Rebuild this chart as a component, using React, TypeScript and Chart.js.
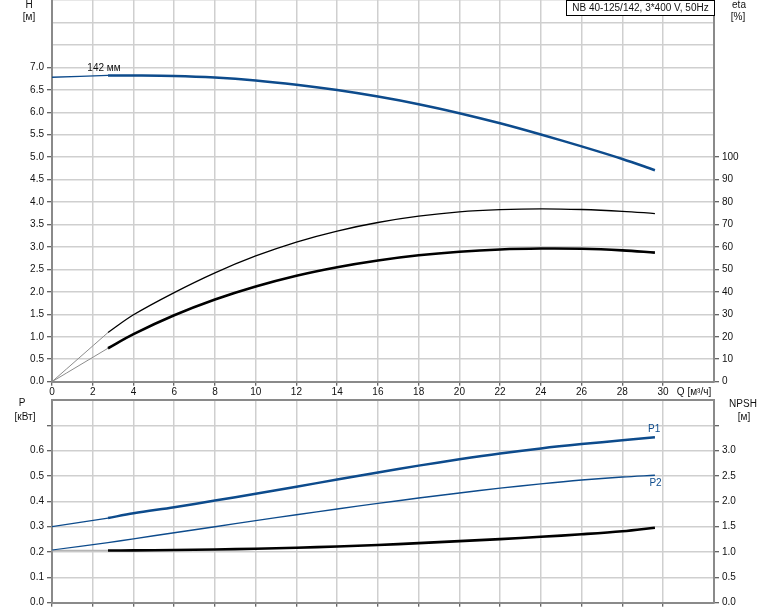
import React, { useEffect, useRef } from 'react';
import { Chart, registerables } from 'chart.js';

Chart.register(...registerables);

// ---------------- data ----------------
// flow Q [m³/h]: short "extension" part (thin) and main part of each curve
const qExt = [0, 2.75];
const qMain = [2.75, 4, 6, 8, 10, 12, 14, 16, 18, 20, 22, 24, 26, 28, 29.6];

// head H [m]
const hExt = [6.78, 6.82];
const hMain = [6.82, 6.82, 6.81, 6.775, 6.71, 6.615, 6.495, 6.35, 6.18, 5.98, 5.755, 5.505, 5.24, 4.96, 4.71];

// efficiency eta [%] (upper thin curve and lower thick curve)
const etaExt = [0, 21.9];
const etaMain = [21.9, 29.8, 39.7, 48.5, 56.0, 62.2, 67.1, 70.9, 73.7, 75.6, 76.6, 77.0, 76.7, 75.9, 74.9];
const etaTotExt = [0, 14.9];
const etaTotMain = [14.9, 21.2, 29.6, 36.6, 42.4, 47.2, 51.0, 54.0, 56.3, 57.9, 58.9, 59.3, 59.2, 58.5, 57.5];

// power P [kW]
const p1Ext = [0.3, 0.334];
const p1Main = [0.334, 0.353, 0.377, 0.403, 0.43, 0.458, 0.486, 0.514, 0.541, 0.566, 0.589, 0.609, 0.626, 0.641, 0.653];
const p2Ext = [0.208, 0.237];
const p2Main = [0.237, 0.252, 0.276, 0.3, 0.324, 0.347, 0.37, 0.392, 0.413, 0.433, 0.452, 0.469, 0.484, 0.496, 0.503];

// NPSH [m]
const npshExt = [1.03, 1.03];
const npshMain = [1.03, 1.033, 1.04, 1.05, 1.065, 1.085, 1.11, 1.14, 1.175, 1.215, 1.255, 1.3, 1.35, 1.41, 1.48];

// tick labels
const qTickLabels = [0, 2, 4, 6, 8, 10, 12, 14, 16, 18, 20, 22, 24, 26, 28, 30];
const hTickLabels = [0, 0.5, 1, 1.5, 2, 2.5, 3, 3.5, 4, 4.5, 5, 5.5, 6, 6.5, 7];
const etaTickLabels = [0, 10, 20, 30, 40, 50, 60, 70, 80, 90, 100];
const pTickLabels = [0, 0.1, 0.2, 0.3, 0.4, 0.5, 0.6];
const npshTickLabels = [0, 0.5, 1, 1.5, 2, 2.5, 3];

const titleText = 'NB 40-125/142, 3*400 V, 50Hz';
const curveLabel = '142 мм';

// ---------------- styles ----------------
const FONT = 'Arial, "Liberation Sans", sans-serif';
const BLUE = '#0d4b8c';
const GRID = '#cfcfcf';
const AXIS = '#8a8a8a';
const TICK = '#333333';
const TEXT = '#111111';

const has = (arr: number[], v: number) => arr.some((a) => Math.abs(a - v) < 1e-6);

const pts = (xs: number[], ys: number[]) => xs.map((x, i) => ({ x, y: ys[i] }));

const line = (label: string, xs: number[], ys: number[], color: string, width: number, yAxisID: string) => ({
  label,
  data: pts(xs, ys),
  borderColor: color,
  backgroundColor: color,
  borderWidth: width,
  pointRadius: 0,
  pointHoverRadius: 0,
  fill: false,
  tension: 0.35,
  borderCapStyle: 'butt' as const,
  yAxisID,
});

const noPad = (s: any) => {
  s.paddingTop = 0;
  s.paddingBottom = 0;
  s.paddingLeft = 0;
  s.paddingRight = 0;
};

const valueAxis = (
  position: 'left' | 'right',
  min: number,
  max: number,
  step: number,
  labels: number[],
  markMax: number,
  decimals: number,
  width: number,
  onArea: boolean
) => ({
  type: 'linear' as const,
  position,
  min,
  max,
  afterFit: (s: any) => {
    s.width = width;
    noPad(s);
  },
  ticks: {
    stepSize: step,
    autoSkip: false,
    padding: 3,
    color: TEXT,
    font: { family: FONT, size: 10 },
    callback: (v: any) => (has(labels, Number(v)) ? Number(v).toFixed(decimals) : ''),
  },
  grid: {
    drawOnChartArea: onArea,
    color: GRID,
    lineWidth: 1.5,
    tickLength: 5,
    tickWidth: 1,
    tickColor: (ctx: any) => (ctx.tick && ctx.tick.value <= markMax + 1e-6 ? TICK : 'rgba(0,0,0,0)'),
  },
  border: { display: true, color: AXIS, width: 2 },
});

type TextItem = {
  text: string;
  x: number;
  y: number;
  color?: string;
  data?: boolean;
  yAxis?: string;
};

const textPlugin = (items: TextItem[], box?: boolean, frameTop?: boolean) => ({
  id: 'texts',
  afterDraw(chart: any) {
    const ctx = chart.ctx as CanvasRenderingContext2D;
    const area = chart.chartArea;
    ctx.save();
    if (frameTop) {
      ctx.strokeStyle = AXIS;
      ctx.lineWidth = 2;
      ctx.beginPath();
      ctx.moveTo(area.left - 1, area.top);
      ctx.lineTo(area.right + 1, area.top);
      ctx.stroke();
    }
    if (box) {
      const bw = 148;
      const bh = 15;
      const bx = Math.round(area.right - bw) + 0.5;
      const by = 0.5;
      ctx.fillStyle = '#ffffff';
      ctx.fillRect(bx, by, bw, bh);
      ctx.strokeStyle = '#000000';
      ctx.lineWidth = 1;
      ctx.strokeRect(bx, by, bw, bh);
      ctx.fillStyle = TEXT;
      ctx.font = `10px ${FONT}`;
      ctx.textAlign = 'center';
      ctx.textBaseline = 'middle';
      ctx.fillText(titleText, bx + bw / 2, by + bh / 2 + 0.5);
    }
    ctx.font = `10px ${FONT}`;
    ctx.textAlign = 'center';
    ctx.textBaseline = 'middle';
    for (const it of items) {
      let x = it.x;
      let y = it.y;
      if (it.data) {
        x = chart.scales.x.getPixelForValue(it.x);
        y = chart.scales[it.yAxis || 'y'].getPixelForValue(it.y);
      }
      ctx.fillStyle = it.color || TEXT;
      ctx.fillText(it.text, x, y);
    }
    ctx.restore();
  },
});

const xAxis = (showLabels: boolean, height: number) => ({
  type: 'linear' as const,
  position: 'bottom' as const,
  min: 0,
  max: 32.5,
  afterFit: (s: any) => {
    s.height = height;
    noPad(s);
  },
  afterBuildTicks: (s: any) => {
    s.ticks = s.ticks.filter((t: any) => Math.abs(t.value - Math.round(t.value / 2) * 2) < 1e-6);
  },
  ticks: {
    display: showLabels,
    stepSize: 2,
    autoSkip: false,
    maxRotation: 0,
    padding: 1,
    color: TEXT,
    font: { family: FONT, size: 10 },
    callback: (v: any) => (has(qTickLabels, Number(v)) ? String(v) : ''),
  },
  grid: {
    color: GRID,
    lineWidth: 1.5,
    tickLength: 4,
    tickWidth: 1,
    tickColor: (ctx: any) => (ctx.tick && has(qTickLabels, ctx.tick.value) ? TICK : 'rgba(0,0,0,0)'),
  },
  border: { display: true, color: AXIS, width: 2 },
});

export default function App() {
  const topRef = useRef<HTMLCanvasElement>(null);
  const botRef = useRef<HTMLCanvasElement>(null);

  useEffect(() => {
    const common: any = {
      responsive: false,
      animation: false,
      devicePixelRatio: 1,
      events: [],
      plugins: { legend: { display: false }, tooltip: { enabled: false } },
    };

    const top = new Chart(topRef.current as HTMLCanvasElement, {
      type: 'line',
      data: {
        datasets: [
          line('H ext', qExt, hExt, BLUE, 1.3, 'y'),
          line('H', qMain, hMain, BLUE, 2.5, 'y'),
          line('eta ext', qExt, etaExt, '#8c8c8c', 1, 'eta'),
          line('eta', qMain, etaMain, '#000000', 1.3, 'eta'),
          line('eta tot ext', qExt, etaTotExt, '#8c8c8c', 1, 'eta'),
          line('eta tot', qMain, etaTotMain, '#000000', 2.6, 'eta'),
        ],
      },
      options: {
        ...common,
        layout: { padding: { top: 0, left: 0, right: 0, bottom: 0 }, autoPadding: false },
        scales: {
          x: xAxis(true, 18.3),
          y: valueAxis('left', 0, 8.5, 0.5, hTickLabels, 7, 1, 52, true),
          eta: valueAxis('right', 0, 170, 10, etaTickLabels, 100, 0, 60, false),
        },
      },
      plugins: [
        textPlugin(
          [
            { text: 'H', x: 29, y: 5 },
            { text: '[м]', x: 29, y: 17 },
            { text: 'eta', x: 739, y: 5 },
            { text: '[%]', x: 738, y: 17 },
            { text: 'Q [м³/ч]', x: 694, y: 392 },
            { text: curveLabel, x: 2.55, y: 6.98, data: true, yAxis: 'y' },
          ],
          true,
          false
        ),
      ],
    } as any);

    const bot = new Chart(botRef.current as HTMLCanvasElement, {
      type: 'line',
      data: {
        datasets: [
          line('P1 ext', qExt, p1Ext, BLUE, 1.3, 'y'),
          line('P1', qMain, p1Main, BLUE, 2.5, 'y'),
          line('P2 ext', qExt, p2Ext, BLUE, 1.2, 'y'),
          line('P2', qMain, p2Main, BLUE, 1.4, 'y'),
          line('NPSH ext', qExt, npshExt, '#b5b5b5', 1.5, 'npsh'),
          line('NPSH', qMain, npshMain, '#000000', 2.6, 'npsh'),
        ],
      },
      options: {
        ...common,
        layout: { padding: { top: 8, left: 0, right: 0, bottom: 0 }, autoPadding: false },
        scales: {
          x: xAxis(false, 8.3),
          y: valueAxis('left', 0, 0.8, 0.1, pTickLabels, 0.7, 1, 52, true),
          npsh: valueAxis('right', 0, 4, 0.5, npshTickLabels, 3.5, 1, 60, false),
        },
      },
      plugins: [
        textPlugin(
          [
            { text: 'P', x: 22, y: 11 },
            { text: '[кВт]', x: 25, y: 25 },
            { text: 'NPSH', x: 743, y: 12 },
            { text: '[м]', x: 744, y: 25 },
            { text: 'P1', x: 29.56, y: 0.683, data: true, yAxis: 'y', color: BLUE },
            { text: 'P2', x: 29.63, y: 0.473, data: true, yAxis: 'y', color: BLUE },
          ],
          false,
          true
        ),
      ],
    } as any);

    return () => {
      top.destroy();
      bot.destroy();
    };
  }, []);

  return (
    <div style={{ position: 'absolute', left: 0, top: 0, width: 774, height: 611, background: '#ffffff', overflow: 'hidden' }}>
      <canvas ref={topRef} width={774} height={400} style={{ position: 'absolute', left: 0, top: 0 }} />
      <canvas ref={botRef} width={774} height={219} style={{ position: 'absolute', left: 0, top: 392 }} />
    </div>
  );
}
